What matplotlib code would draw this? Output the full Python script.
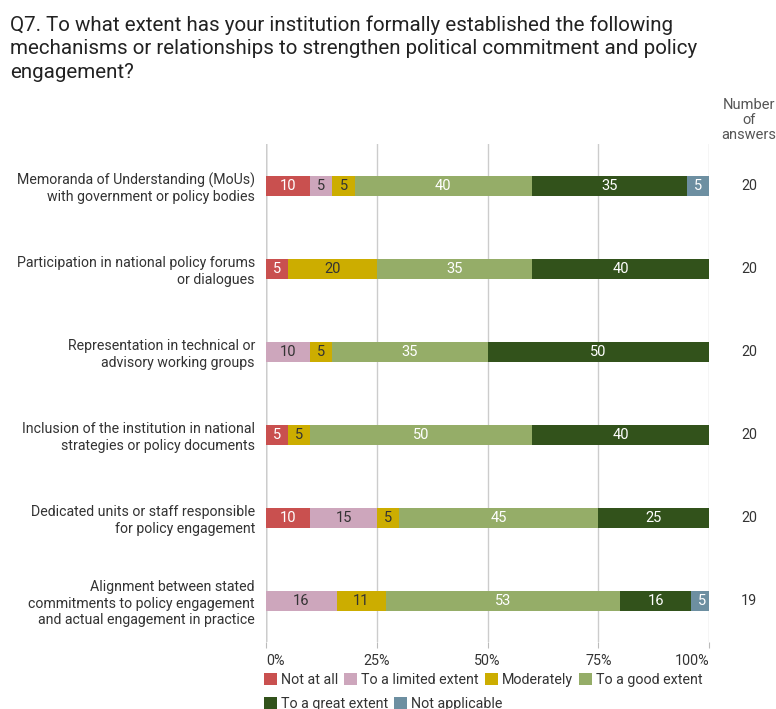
import matplotlib.pyplot as plt
import numpy as np
from matplotlib.transforms import ScaledTranslation

plt.rcParams['font.family'] = ['Roboto', 'DejaVu Sans']

# Survey data
title = ("Q7. To what extent has your institution formally established the following\n"
         "mechanisms or relationships to strengthen political commitment and policy\n"
         "engagement?")
questions = [
    "Memoranda of Understanding (MoUs)\nwith government or policy bodies",
    "Participation in national policy forums\nor dialogues",
    "Representation in technical or\nadvisory working groups",
    "Inclusion of the institution in national\nstrategies or policy documents",
    "Dedicated units or staff responsible\nfor policy engagement",
    "Alignment between stated\ncommitments to policy engagement\nand actual engagement in practice",
]
answers = [20, 20, 20, 20, 20, 19]
categories = ["Not at all", "To a limited extent", "Moderately",
              "To a good extent", "To a great extent", "Not applicable"]
not_at_all = [10, 5, 0, 5, 10, 0]
limited = [5, 0, 10, 0, 15, 16]
moderately = [5, 20, 5, 5, 5, 11]
good = [40, 35, 35, 50, 45, 53]
great = [35, 40, 50, 40, 25, 16]
not_applicable = [5, 0, 0, 0, 0, 5]
series = [not_at_all, limited, moderately, good, great, not_applicable]

colors = ["#c9504f", "#cda6bc", "#ccad00", "#95ad68", "#32521b", "#6d8fa1"]
text_colors = ["white", "#333333", "#333333", "white", "white", "white"]

fig = plt.figure(figsize=(7.76, 7.09), dpi=100)
ax = fig.add_axes([0.3428, 0.0938, 0.5709, 0.7024])

y = np.arange(len(questions))
left = np.zeros(len(questions))
bars = []
for vals, col, tcol, name in zip(series, colors, text_colors, categories):
    vals = np.array(vals, dtype=float)
    b = ax.barh(y, vals, left=left, height=0.25, color=col, label=name, zorder=3)
    bars.append(b)
    for yi, v, l in zip(y, vals, left):
        if v > 0:
            ax.text(l + v / 2, yi, f"{int(v)}", ha='center', va='center',
                    color=tcol, fontsize=10.5, zorder=4)
    left += vals

ax.set_xlim(0, 100)
ax.set_ylim(len(questions) - 0.5, -0.5)
ax.set_xticks([0, 25, 50, 75, 100])
ax.set_xticklabels(["0%", "25%", "50%", "75%", "100%"], color="#333333", fontsize=10.3)
xlabels = ax.get_xticklabels()
xlabels[0].set_ha('left')
xlabels[0].set_transform(xlabels[0].get_transform() + ScaledTranslation(-2 / 100, 0, fig.dpi_scale_trans))
xlabels[-1].set_ha('right')
xlabels[-1].set_transform(xlabels[-1].get_transform() + ScaledTranslation(3 / 100, 0, fig.dpi_scale_trans))
ax.set_yticks(y)
ax.set_yticklabels(questions, fontsize=10.2, color="#333333", linespacing=1.2)
ax.tick_params(axis='y', length=0, pad=8)
ax.tick_params(axis='x', length=4, color="#bbbbbb", pad=4)
ax.grid(axis='x', color="#cccccc", linewidth=1, zorder=0)
for s in ax.spines.values():
    s.set_visible(False)
ax.axvline(0, color="#999999", linewidth=1, zorder=1)

# number of answers column
for yi, n in zip(y, answers):
    ax.text(1.09, yi, str(n), transform=ax.get_yaxis_transform(), ha='center',
            va='center', fontsize=10.3, color="#333333")
fig.text(749 / 776, 1 - 120 / 709, "Number\nof\nanswers", ha='center', va='center',
         fontsize=10.5, color="#555555", linespacing=1.1)

fig.text(10 / 776, 1 - 15 / 709, title, ha='left', va='top', fontsize=14.8,
         color="#222222", linespacing=1.3)

# legend laid out in two rows
leg_kw = dict(frameon=False, fontsize=10.3, handlelength=0.9, handleheight=0.9,
              handletextpad=0.3, columnspacing=0.4, borderaxespad=0, borderpad=0,
              labelcolor="#333333")
leg1 = fig.legend(bars[:4], categories[:4], ncol=4, loc='upper left',
                  bbox_to_anchor=(264 / 776, 1 - 673 / 709), **leg_kw)
leg2 = fig.legend(bars[4:], categories[4:], ncol=2, loc='upper left',
                  bbox_to_anchor=(264 / 776, 1 - 697 / 709), **leg_kw)

fig.savefig("out.png", dpi=100)
